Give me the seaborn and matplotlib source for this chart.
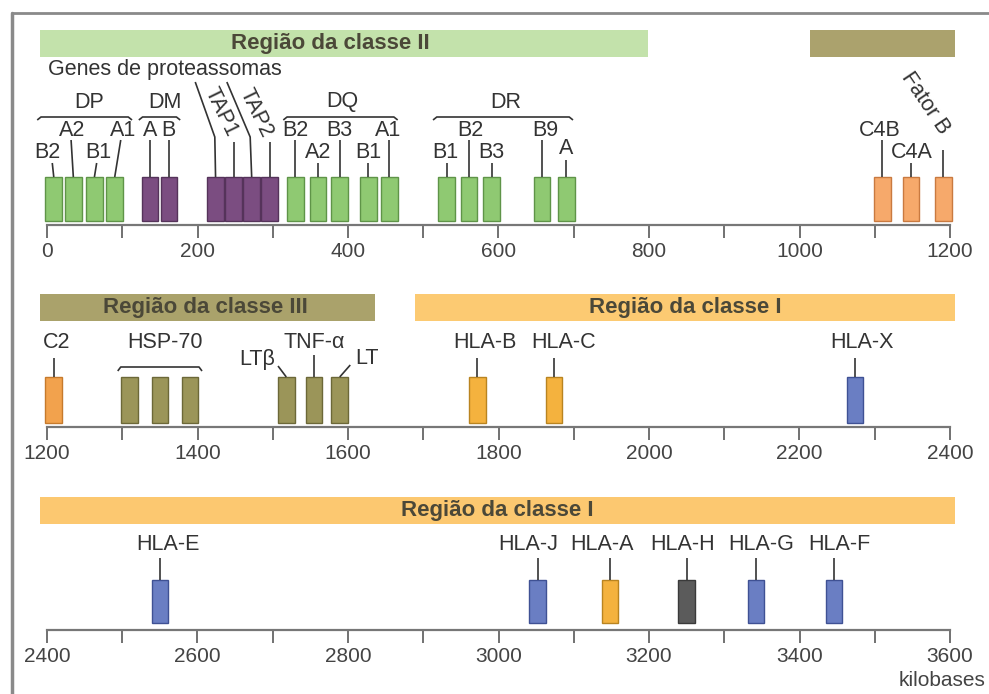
import matplotlib.pyplot as plt
import seaborn as sns
from matplotlib.lines import Line2D

# ---- gene boxes (centre position in kilobases) ----
row1_genes = ["DPB2", "DPA2", "DPB1", "DPA1", "DMA", "DMB", "LMP2", "TAP1", "LMP7", "TAP2",
              "DQB2", "DQA2", "DQB3", "DQB1", "DQA1", "DRB1", "DRB2", "DRB3", "DRB9", "DRA",
              "C4B", "C4A", "Fator B"]
row1_pos = [9, 35, 63, 90, 137, 162, 224, 248, 272, 296, 330, 360, 389, 427, 455,
            531, 561, 591, 658, 690, 1110, 1148, 1191]
row1_kind = ["II"] * 4 + ["prot"] * 6 + ["II"] * 10 + ["C4"] * 3

row2_genes = ["C2", "HSP1", "HSP2", "HSP3", "LTb", "TNF", "LT", "HLA-B", "HLA-C", "HLA-X"]
row2_pos = [1209, 1310, 1350, 1390, 1518, 1555, 1589, 1772, 1874, 2274]
row2_kind = ["C2", "III", "III", "III", "III", "III", "III", "I", "I", "Ib"]

row3_genes = ["HLA-E", "HLA-J", "HLA-A", "HLA-H", "HLA-G", "HLA-F"]
row3_pos = [2550, 3052, 3148, 3250, 3342, 3446]
row3_kind = ["Ib", "Ib", "I", "pseudo", "Ib", "Ib"]

# ---- labels: text, text x (kb), text height, rotation, leader top x, leader top y, gene index ----
row1_lab = ["B2", "A2", "B1", "A1", "A", "B", "TAP1", "TAP2", "B2", "A2", "B3", "B1", "A1",
            "B1", "B2", "B3", "B9", "A", "C4B", "C4A", "Fator B"]
row1_lab_x = [1, 33, 68, 101, 137, 161, 231, 277, 330, 360, 388, 427, 453,
              529, 562, 591, 662, 690, 1106, 1149, 1167]
row1_lab_y = [72, 95, 72, 95, 95, 95, 113, 112, 95, 72, 95, 72, 95,
              72, 95, 72, 95, 76, 95, 72, 122]
row1_lab_rot = [0] * 6 + [-64, -64] + [0] * 12 + [-56]
row1_line_x = [7, 32, 66, 98, 137, 162, 248, 296, 330, 360, 389, 427, 455,
               531, 561, 591, 658, 690, 1110, 1148, 1191]
row1_line_y = [62, 85, 62, 85, 85, 85, 83, 83, 85, 62, 85, 62, 85,
               62, 85, 62, 85, 65, 85, 62, 75]
row1_lab_gene = [0, 1, 2, 3, 4, 5, 7, 9, 10, 11, 12, 13, 14, 15, 16, 17, 18, 19, 20, 21, 22]

row1_groups = ["DP", "DM", "DQ", "DR"]
row1_group_start = [-13, 122, 314, 513]
row1_group_end = [113, 177, 466, 699]
row1_group_x = [56, 157, 393, 610]

# proteasome genes leaders (text -> LMP2, LMP7)
prot_gene = [6, 8]
prot_start_x = [197, 239]
prot_bend_x = [223, 270]

row2_lab = ["C2", "HSP-70", "LTβ", "TNF-α", "LT", "HLA-B", "HLA-C", "HLA-X"]
row2_lab_x = [1213, 1357, 1479, 1555, 1625, 1782, 1886, 2283]
row2_lab_y = [84, 84, 67, 84, 69, 84, 84, 84]
row2_line_x = [1209, None, 1507, 1555, 1603, 1772, 1874, 2274]
row2_line_y = [69, None, 61, 72, 62, 69, 69, 69]
row2_lab_gene = [0, None, 4, 5, 6, 7, 8, 9]
hsp_bracket = [1294, 1406]

row3_lab = ["HLA-E", "HLA-J", "HLA-A", "HLA-H", "HLA-G", "HLA-F"]
row3_lab_x = [2561, 3040, 3137, 3244, 3349, 3453]

# ---- region bars ----
region_row = [0, 0, 1, 1, 2]
region_start = [-9, 1014, 1191, 1689, 2391]
region_end = [799, 1207, 1636, 2407, 3607]
region_label = ["Região da classe II", "", "Região da classe III",
                "Região da classe I", "Região da classe I"]
region_label_x = [376, 0, 1410, 2048, 2998]
region_color = ["#c3e2ab", "#aba26d", "#aaa26b", "#fcca72", "#fcc870"]

row_start = [0, 1200, 2400]

face = {"II": "#8fc972", "prot": "#7b4d81", "C4": "#f6a96b", "C2": "#f2a24d",
        "III": "#9b9559", "I": "#f4b23e", "Ib": "#6a7ec3", "pseudo": "#5b5b5b"}
edge = {"II": "#5f9448", "prot": "#55335a", "C4": "#c97a40", "C2": "#c67a2c",
        "III": "#6c6838", "I": "#b98420", "Ib": "#3f5194", "pseudo": "#3a3a3a"}

INK = "#333333"
TXT = 15.5


def draw_boxes(ax, pos, kind, bottom, height):
    for p, k in zip(pos, kind):
        ax.bar(p, height, width=22, bottom=bottom, color=face[k], edgecolor=edge[k], linewidth=1.0)


def leader(ax, xs, ys):
    ax.plot(xs, ys, color=INK, lw=1.2, solid_capstyle="butt")


def setup_axis(ax, start):
    px_per_kb = 903 / 1200
    ax.set_xlim(start - 47 / px_per_kb, start + 942 / px_per_kb)
    for s in ["top", "left", "right"]:
        ax.spines[s].set_visible(False)
    ax.spines["bottom"].set_position(("data", 0))
    ax.spines["bottom"].set_bounds(start, start + 1200)
    ax.spines["bottom"].set_color("#777777")
    ax.spines["bottom"].set_linewidth(1.6)
    ax.set_xticks(range(start, start + 1201, 200))
    ax.set_xticks(range(start + 100, start + 1200, 200), minor=True)
    ax.tick_params(axis="x", which="both", bottom=True, direction="out", length=9, width=1.3,
                   color="#666666", labelsize=15, labelcolor="#444444", pad=3)
    ax.set_yticks([])
    ax.patch.set_alpha(0)


sns.set_theme(style="white")
plt.rcParams["font.family"] = ["Liberation Sans", "DejaVu Sans"]

fig = plt.figure(figsize=(9.89, 6.94), dpi=100)
H = 694
rows_px = [(14, 225, 262), (262, 427, 465), (465, 630, 694)]
axes = []
for top, base, bot in rows_px:
    ax = fig.add_axes([0, 1 - bot / H, 1, (bot - top) / H])
    ax.set_ylim(-(bot - base), base - top)
    axes.append(ax)

for i, ax in enumerate(axes):
    setup_axis(ax, row_start[i])

# region bars
for r, s, e, lab, lx, c in zip(region_row, region_start, region_end, region_label,
                               region_label_x, region_color):
    ax = axes[r]
    yb = 168 if r == 0 else 106
    ax.barh(yb + 13.5, e - s, left=s, height=27, color=c, linewidth=0)
    if lab:
        ax.text(lx, yb + 13.5, lab, ha="center", va="center", fontsize=16,
                fontweight="bold", color="#4b4838")

# ---- row 1 ----
ax = axes[0]
draw_boxes(ax, row1_pos, row1_kind, 4, 44)
for t, x, y, rot, lx, ly, g in zip(row1_lab, row1_lab_x, row1_lab_y, row1_lab_rot,
                                   row1_line_x, row1_line_y, row1_lab_gene):
    ax.text(x, y, t, ha="center", va="center", fontsize=TXT, color=INK,
            rotation=rot, rotation_mode="anchor")
    leader(ax, [lx, row1_pos[g]], [ly, 48])
for name, s, e, x in zip(row1_groups, row1_group_start, row1_group_end, row1_group_x):
    leader(ax, [s, s + 5, e - 5, e], [105, 108, 108, 105])
    ax.text(x, 123, name, ha="center", va="center", fontsize=TXT, color=INK)
ax.text(157, 155, "Genes de proteassomas", ha="center", va="center", fontsize=TXT, color=INK)
for g, sx, bx in zip(prot_gene, prot_start_x, prot_bend_x):
    leader(ax, [sx, bx, row1_pos[g]], [143, 88, 48])

# ---- row 2 ----
ax = axes[1]
draw_boxes(ax, row2_pos, row2_kind, 4, 46)
for t, x, y, lx, ly, g in zip(row2_lab, row2_lab_x, row2_lab_y, row2_line_x,
                              row2_line_y, row2_lab_gene):
    ax.text(x, y, t, ha="center", va="center", fontsize=TXT, color=INK)
    if g is not None:
        leader(ax, [lx, row2_pos[g]], [ly, 50])
leader(ax, [hsp_bracket[0], hsp_bracket[0] + 4, hsp_bracket[1] - 4, hsp_bracket[1]],
       [56, 60, 60, 56])

# ---- row 3 ----
ax = axes[2]
draw_boxes(ax, row3_pos, row3_kind, 7, 43)
for t, x, p in zip(row3_lab, row3_lab_x, row3_pos):
    ax.text(x, 85, t, ha="center", va="center", fontsize=TXT, color=INK)
    leader(ax, [p, p], [72, 50])
ax.text(3590, -50, "kilobases", ha="center", va="center", fontsize=15, color="#444444")

# frame
fig.add_artist(Line2D([12 / 989, 12 / 989], [0, 1 - 13 / H], transform=fig.transFigure,
                      color="#8a8a8a", lw=2.5))
fig.add_artist(Line2D([12 / 989, 1], [1 - 13 / H, 1 - 13 / H], transform=fig.transFigure,
                      color="#8a8a8a", lw=2.0))

fig.savefig("out.png", dpi=100)
